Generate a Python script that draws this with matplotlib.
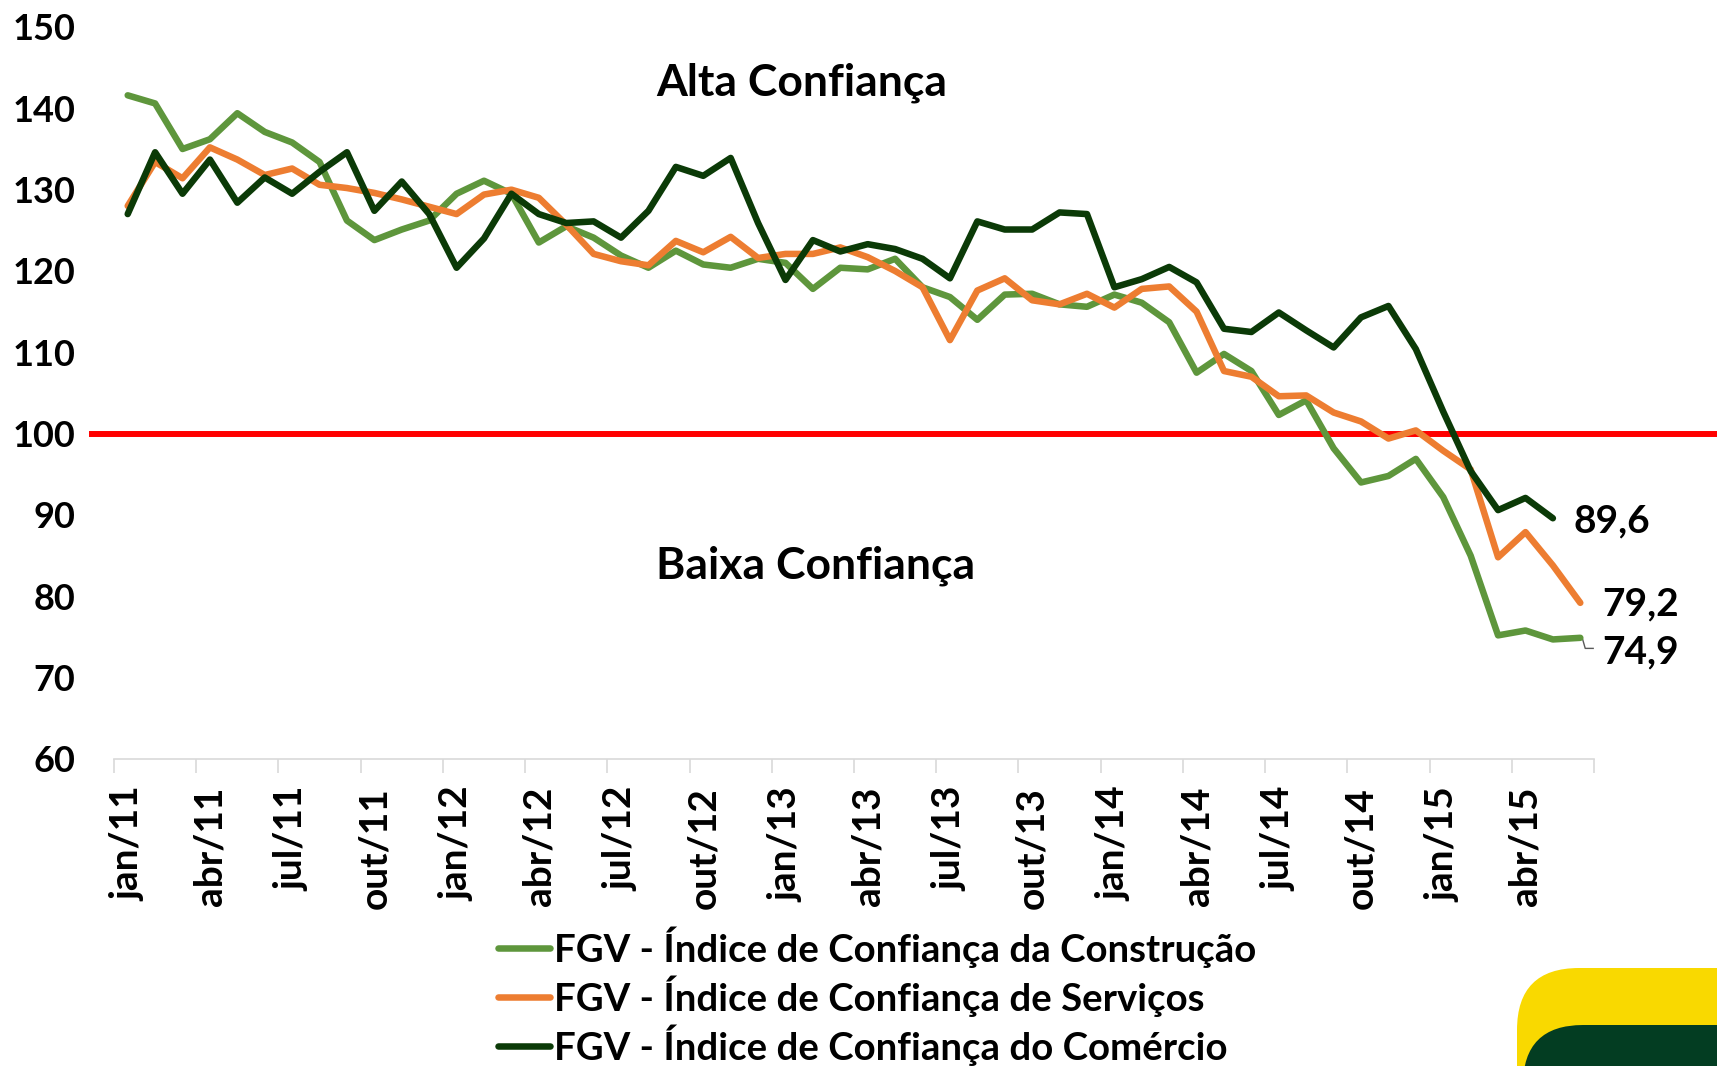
import matplotlib
matplotlib.use("Agg")
import matplotlib.pyplot as plt
from matplotlib.patches import FancyBboxPatch

plt.rcParams['font.family'] = ['Lato', 'DejaVu Sans']
plt.rcParams['font.weight'] = 'bold'

# monthly, jan/11 .. jun/15
months = ["jan", "fev", "mar", "abr", "mai", "jun", "jul", "ago", "set", "out", "nov", "dez"]
periods = [f"{m}/{y}" for y in range(11, 16) for m in months][:54]

construcao = [141.6, 140.6, 135.0, 136.2, 139.4, 137.1, 135.8, 133.4, 126.2, 123.8,
              125.1, 126.2, 129.5, 131.1, 129.5, 123.5, 125.5, 124.1, 121.9, 120.4,
              122.5, 120.8, 120.4, 121.5, 121.0, 117.8, 120.4, 120.2, 121.5, 118.0,
              116.8, 114.0, 117.1, 117.2, 115.9, 115.6, 117.1, 116.1, 113.7, 107.5,
              109.8, 107.7, 102.3, 104.1, 98.2, 94.0, 94.8, 96.9, 92.2, 85.0,
              75.2, 75.8, 74.7, 74.9]
servicos = [128.0, 133.4, 131.4, 135.2, 133.7, 131.8, 132.6, 130.6, 130.2, 129.6,
            128.8, 127.9, 127.0, 129.4, 130.0, 129.0, 125.7, 122.1, 121.2, 120.7,
            123.7, 122.3, 124.2, 121.6, 122.1, 122.1, 122.9, 121.7, 120.0, 118.0,
            111.5, 117.6, 119.1, 116.4, 115.9, 117.2, 115.5, 117.8, 118.1, 115.0,
            107.7, 107.0, 104.6, 104.7, 102.6, 101.5, 99.4, 100.4, 97.9, 95.6,
            84.8, 87.9, 83.8, 79.2]
comercio = [127.0, 134.6, 129.5, 133.7, 128.4, 131.5, 129.5, 132.2, 134.6, 127.4,
            131.0, 127.0, 120.4, 124.0, 129.5, 127.0, 125.9, 126.1, 124.1, 127.4,
            132.8, 131.7, 133.9, 125.9, 118.9, 123.8, 122.4, 123.3, 122.7, 121.5,
            119.1, 126.1, 125.1, 125.1, 127.2, 127.0, 118.0, 119.0, 120.5, 118.6,
            112.9, 112.5, 114.9, 112.7, 110.6, 114.3, 115.7, 110.4, 102.7, 95.4,
            90.6, 92.1, 89.6]

series_labels = ["FGV - Índice de Confiança da Construção",
                 "FGV - Índice de Confiança de Serviços",
                 "FGV - Índice de Confiança do Comércio"]
colors = ["#5E963C", "#ED7D31", "#0B3A07"]

W, H = 1717, 1066
fig = plt.figure(figsize=(W / 100, H / 100), dpi=100)

# background layer in pixel coordinates (logo corner)
bg = fig.add_axes([0, 0, 1, 1])
bg.set_xlim(0, W)
bg.set_ylim(H, 0)
bg.axis("off")
bg.add_patch(FancyBboxPatch((1517, 968), 400, 300, boxstyle="round,pad=0,rounding_size=62",
                            fc="#F9D900", ec="none"))
bg.add_patch(FancyBboxPatch((1523, 1025), 400, 300, boxstyle="round,pad=0,rounding_size=60",
                            fc="#033D22", ec="none"))

ax = fig.add_axes([114 / W, 1 - 759 / H, (1594 - 114) / W, (759 - 27) / H])
ax.patch.set_alpha(0)

ax.axhline(100, xmin=-0.015, xmax=1.2, color="#FF0000", lw=4.3, clip_on=False, zorder=1)

x = list(range(len(periods)))
for vals, lab, c in zip([construcao, servicos, comercio], series_labels, colors):
    ax.plot(x[:len(vals)], vals, color=c, lw=4.7, label=lab,
            solid_joinstyle="round", solid_capstyle="round", zorder=3)

ax.set_xlim(-0.5, len(periods) - 0.5)
ax.set_ylim(60, 150)
ax.set_yticks(range(60, 151, 10))
ax.tick_params(axis="y", length=0, pad=28, labelsize=26)

ax.set_xticks(x[::3])
ax.set_xticklabels(periods[::3], rotation=90)
ax.set_xticks([i - 0.5 for i in range(0, len(periods) + 1, 3)], minor=True)
ax.tick_params(axis="x", which="major", length=0, pad=20, labelsize=28)
ax.tick_params(axis="x", which="minor", length=10, width=1.2, color="#D9D9D9")

for s in ["top", "right", "left"]:
    ax.spines[s].set_visible(False)
ax.spines["bottom"].set_color("#D9D9D9")
ax.spines["bottom"].set_linewidth(1.2)

ax.text(24.6, 143.1, "Alta Confiança", ha="center", va="center", fontsize=32)
ax.text(25.1, 83.7, "Baixa Confiança", ha="center", va="center", fontsize=32)

ax.text(52.75, comercio[-1] - 0.3, "89,6", ha="left", va="center", fontsize=28)
ax.text(53.8, servicos[-1] - 0.2, "79,2", ha="left", va="center", fontsize=28)
ax.text(53.8, construcao[-1] - 1.7, "74,9", ha="left", va="center", fontsize=28)
ax.plot([53.07, 53.18, 53.47], [construcao[-1], construcao[-1] - 1.3, construcao[-1] - 1.3],
        color="#595959", lw=1, clip_on=False, zorder=2)

fig.legend(loc="upper left", bbox_to_anchor=(498 / W, 1 - 926 / H), frameon=False,
           fontsize=27.6, handlelength=1.35, handletextpad=0.1, labelspacing=0.2,
           borderpad=0, borderaxespad=0)

fig.savefig("out.png", dpi=100)
